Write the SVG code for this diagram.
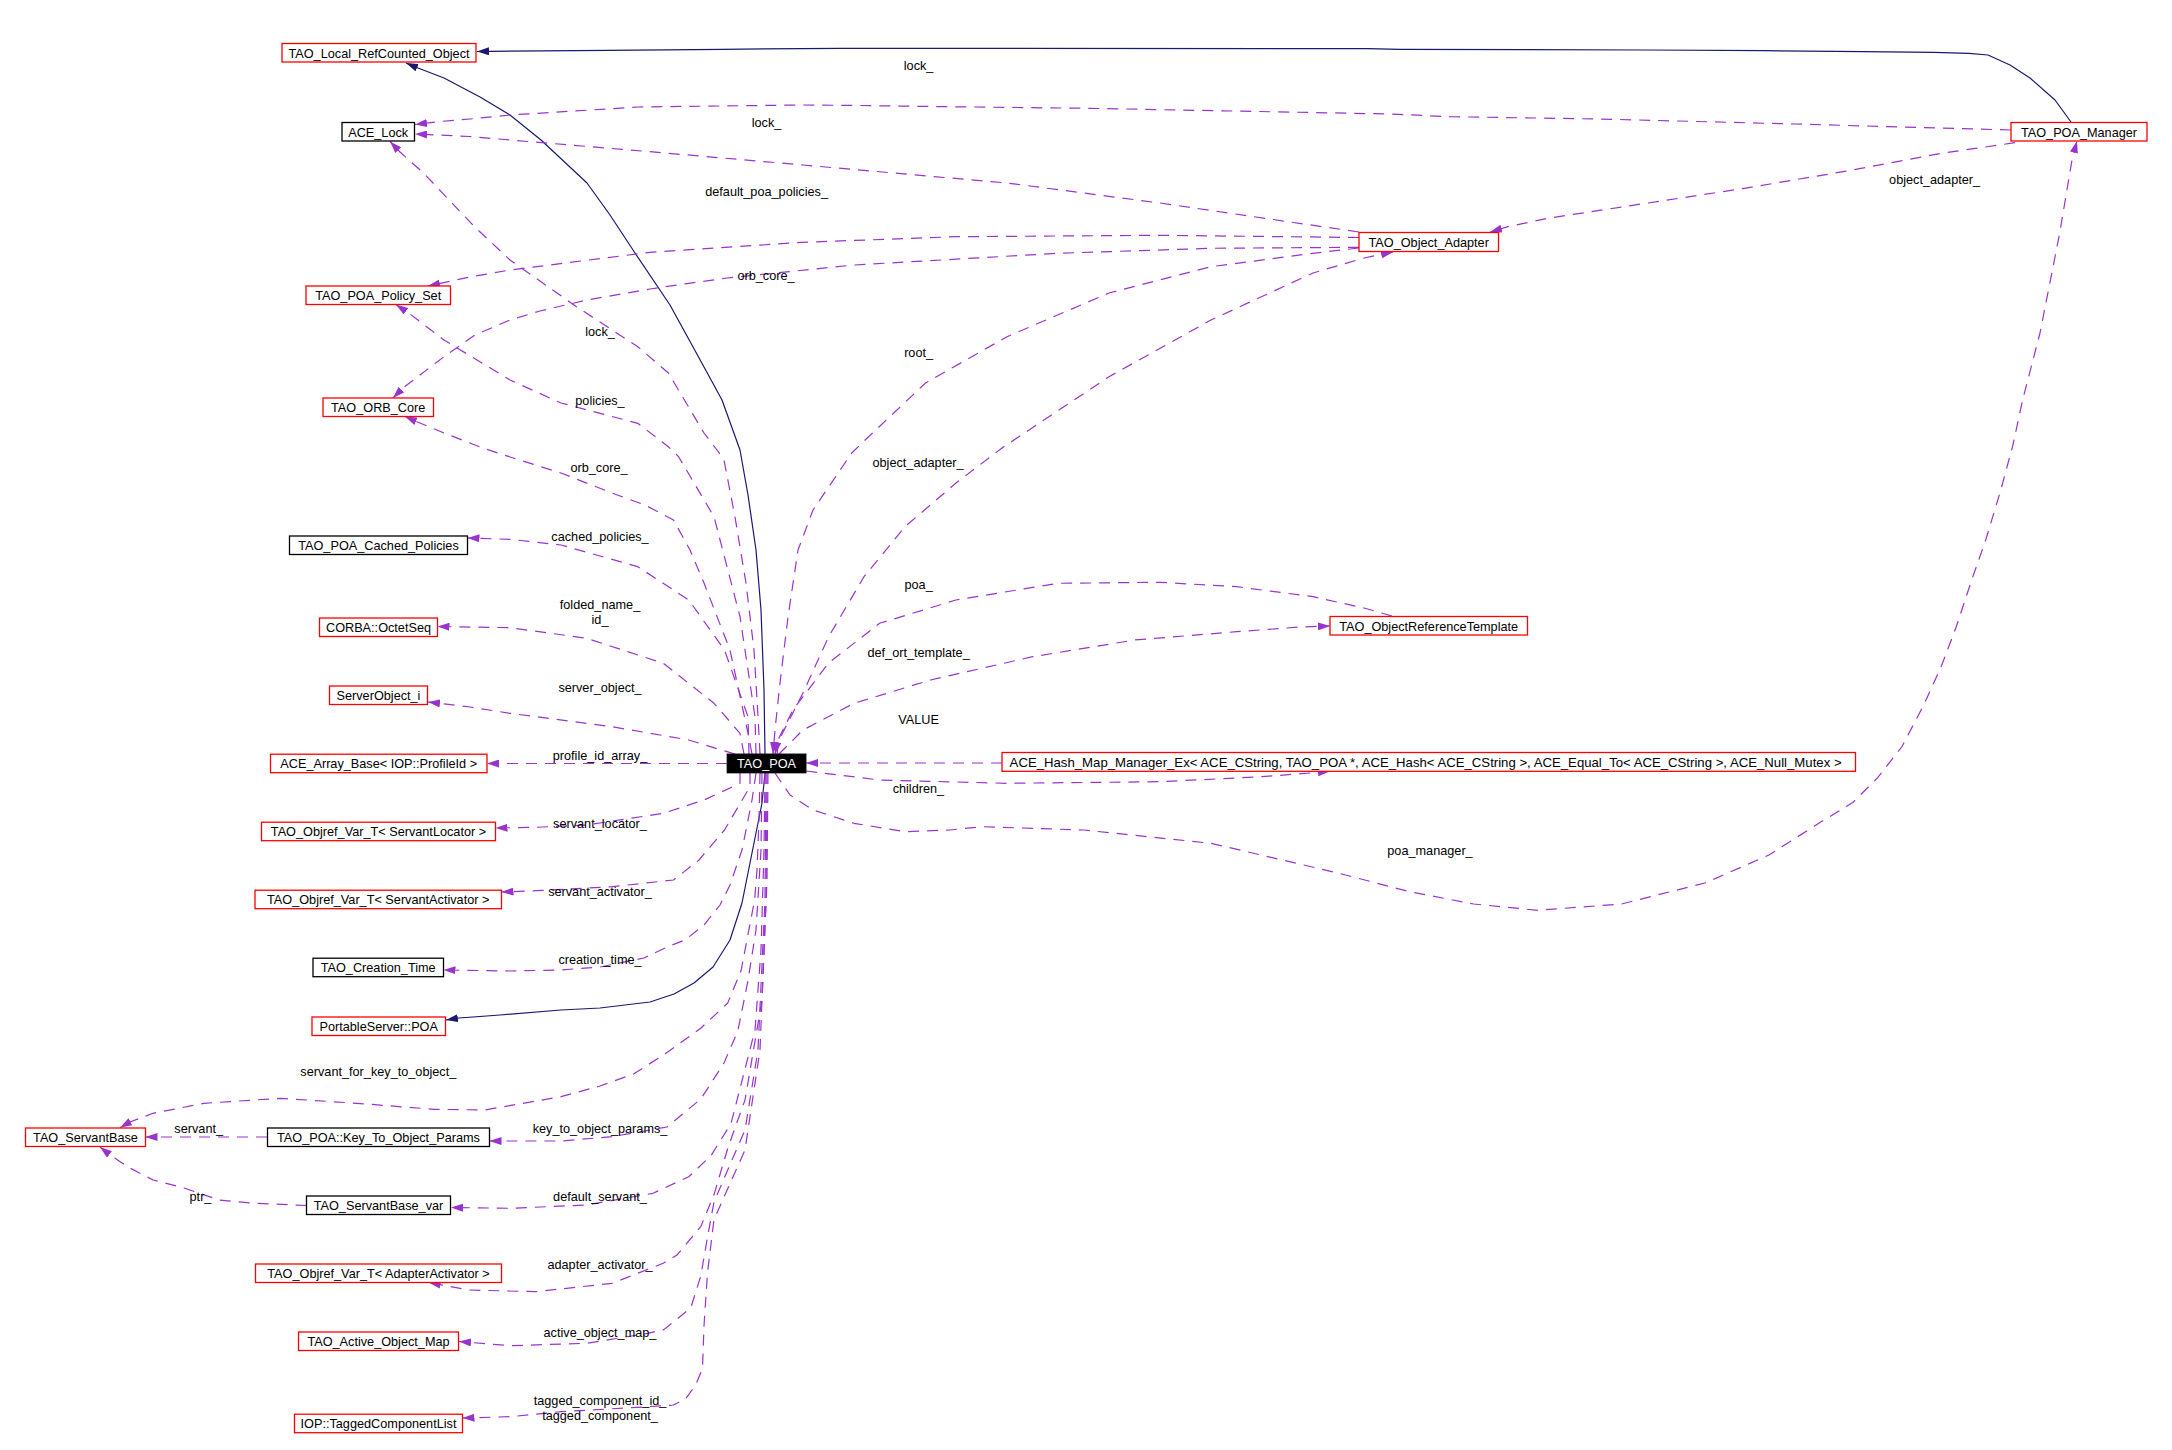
<svg xmlns="http://www.w3.org/2000/svg" width="2172" height="1450" viewBox="0 0 2172 1450">
<defs>
<style>
text{font-family:"Liberation Sans",Arial,Helvetica,sans-serif;font-size:12.7px;fill:#000}
.nr{fill:#fff;stroke:#ff0000;stroke-width:1.3}
.nb{fill:#fff;stroke:#000;stroke-width:1.3}
.nt{text-anchor:middle}
.lb{text-anchor:middle}
.u{fill:none;stroke:#9a32cd;stroke-width:1.2;stroke-dasharray:11,8;stroke-linejoin:round;marker-end:url(#ap)}
.i{fill:none;stroke:#191970;stroke-width:1.2;stroke-linejoin:round;marker-end:url(#an)}
</style>
<marker id="ap" viewBox="0 0 12 8" refX="12" refY="4" markerWidth="12" markerHeight="8" markerUnits="userSpaceOnUse" orient="auto"><path d="M0,0 L12,4 L0,8 z" fill="#9a32cd"/></marker>
<marker id="an" viewBox="0 0 12 8" refX="12" refY="4" markerWidth="12" markerHeight="8" markerUnits="userSpaceOnUse" orient="auto"><path d="M0,0 L12,4 L0,8 z" fill="#191970"/></marker>
</defs>
<rect width="2172" height="1450" fill="#fff"/>

<g id="edges">
<g id="e_inh_refcounted"><path class="i" d="M765,754 L764,690 L761,610 L756,550 L748,495 L740,450 L722,400 L704,367 L670,305 L635,253 L610,215 L587,183 L541,140 L510,115 L480,97 L444,78 L418,68 L406,63"/></g>
<g id="e_inh_portableserver"><path class="i" d="M765,773 L762,803 L752,853 L742,903 L730,940 L713,967 L694,983 L674,994 L650,1002 L600,1008 L561,1010 L500,1015 L459,1018 L446,1020"/></g>
<g id="e_inh_manager"><path class="i" d="M2071,122 L2055,100 L2030,78 L2010,65 L1988,55 L1969,53.3 L1934,52.3 L1863,51.7 L1764,50.7 L1646,50 L1400,49.3 L1368,48.7 L840,48.3 L723,49.3 L608,50.3 L490,51.3 L477,51.5"/></g>

<g id="e_mgr_lock"><path class="u" d="M2011,130 L1794,124 L1600,119 L1450,116.7 L1390,114 L1089,108.3 L946,106.7 L844,105.3 L800,105 L638,107 L510,115 L470,119 L440,121.5 L415,124.5"/><text class="lb" x="918.6" y="70">lock_</text></g>
<g id="e_oa_lock"><path class="u" d="M1359,232 L1288,221.7 L1160,203 L1007,183 L803,165 L650,151.7 L510,140 L470,136.5 L415,134"/><text class="lb" x="766.5" y="127">lock_</text></g>
<g id="e_oa_policyset"><path class="u" d="M1359,237.5 L1160,235.3 L956,236.7 L803,242.3 L650,252.3 L510,270 L470,277 L428,286"/><text class="lb" x="766.6" y="195.5">default_poa_policies_</text></g>
<g id="e_oa_orbcore"><path class="u" d="M1359,247.3 L1211,248.3 L1058,253.3 L854,265 L727,278 L689,283.3 L650,289 L587,300 L540,311 L510,320 L475,335 L444,356.7 L420,375 L403,388 L393,398"/><text class="lb" x="766" y="279.5">orb_core_</text></g>
<g id="e_oa_poa_root"><path class="u" d="M1359,248 L1313,253.3 L1211,266.7 L1109,293 L1007,336.7 L925.5,383 L862,443 L851.5,453.3 L813,510 L798,550 L788,617 L780,683 L775,730 L773,754"/><text class="lb" x="918.6" y="356.5">root_</text></g>
<g id="e_poa_oa"><path class="u" d="M777,754 L779,740 L803,693 L828.6,636.7 L864,576.7 L905,526.7 L956,483 L1002,448 L1109,376.7 L1211,320 L1313,273 L1364,258 L1393,252"/><text class="lb" x="918" y="466.8">object_adapter_</text></g>
<g id="e_mgr_oa"><path class="u" d="M2015,142.7 L1941.5,153.3 L1843,171.7 L1744.6,188.3 L1646,203.3 L1547.7,218.3 L1508,226.7 L1490,232"/><text class="lb" x="1934.6" y="183.5">object_adapter_</text></g>

<g id="e_poa_lock"><path class="u" d="M760,754 L758,716 L754,650 L746,583 L735,517 L724,460 L717,450 L704,433 L668.4,373 L637.8,346.7 L576.5,306.7 L510,260 L474.5,226.7 L423.5,173 L400,152 L390,141.5"/><text class="lb" x="600" y="336.2">lock_</text></g>
<g id="e_poa_policies"><path class="u" d="M756,754 L755,716.7 L740,616.7 L714,516.7 L678.6,456.7 L668.4,446.7 L637.8,423.3 L561,403 L510,380 L444,340 L410,314 L396,304.5"/><text class="lb" x="600" y="404.5">policies_</text></g>
<g id="e_poa_orbcore"><path class="u" d="M752,754 L748,733 L730,650 L704,583 L690,550 L673.5,520 L645,505 L612,493 L561,473 L510,457 L480,447 L444,433 L420,423 L405,416.5"/><text class="lb" x="599" y="472.2">orb_core_</text></g>
<g id="e_poa_cached"><path class="u" d="M749,754 L748,716.7 L724.5,650 L688.8,600 L637.8,566.7 L561,545 L510,539.3 L467.5,538"/><text class="lb" x="600" y="540.5">cached_policies_</text></g>
<g id="e_poa_octetseq"><path class="u" d="M744,754 L740,733.3 L714,703.3 L663.3,663.3 L586.7,638.3 L510,627.7 L437.5,626.5"/><text class="lb" x="600" y="608.5">folded_name_</text><text class="lb" x="600" y="623.5">id_</text></g>
<g id="e_poa_serverobj"><path class="u" d="M735,754 L727,751.7 L688.8,740 L612,726.7 L510,713.3 L470,707 L428,702"/><text class="lb" x="600" y="691.5">server_object_</text></g>
<g id="e_poa_profile"><path class="u" d="M727,763.5 L487,763.5"/><text class="lb" x="600" y="759.5">profile_id_array_</text></g>
<g id="e_poa_locator"><path class="u" d="M740,773 L740,783.3 L704,800 L663.3,813.3 L586.7,825 L535.7,827.3 L495.5,828"/><text class="lb" x="600" y="827.5">servant_locator_</text></g>
<g id="e_poa_activator"><path class="u" d="M750,773 L750,786.7 L724.5,830 L699,860 L673.5,880 L612,886.7 L535.7,890.7 L501.5,892"/><text class="lb" x="600" y="895.5">servant_activator_</text></g>
<g id="e_poa_creation"><path class="u" d="M756,773 L752,800 L742,850 L730,885 L720,905 L704,925 L685,940 L667,947 L644,958 L600,967 L560,970 L510,971 L443.5,970"/><text class="lb" x="600" y="963.5">creation_time_</text></g>
<g id="e_poa_servantbase"><path class="u" d="M760,773 L759,820 L757,870 L754.6,900 L747.8,935.5 L741,971 L727.7,1003 L701,1028 L667,1052.6 L633.6,1074 L600,1086 L561,1096.7 L484.7,1110 L433.7,1109.3 L357,1103.3 L280.6,1098.3 L204,1103.3 L153,1113.3 L130,1122 L120,1127.7"/><text class="lb" x="378.3" y="1075.5">servant_for_key_to_object_</text></g>
<g id="e_poa_keyparams"><path class="u" d="M762,773 L761,850 L756,930 L747.8,981.6 L737.8,1031 L724,1063 L700.8,1099 L667,1127 L612,1136.7 L561,1141 L500,1141 L489.5,1141"/><text class="lb" x="600" y="1132.8">key_to_object_params_</text></g>
<g id="e_keyparams_servantbase"><path class="u" d="M267,1137 L145.5,1137"/><text class="lb" x="198.7" y="1132.5">servant_</text></g>
<g id="e_servantbasevar_servantbase"><path class="u" d="M306.6,1205.5 L255,1203.3 L219,1200 L184,1188 L153,1180 L128,1167 L110,1155 L100,1147"/><text class="lb" x="200.5" y="1200.8">ptr_</text></g>
<g id="e_poa_defaultservant"><path class="u" d="M765,773 L764,850 L761,950 L755,1030 L741,1084.6 L731,1123.6 L711,1155.6 L688.8,1176.7 L653,1193.3 L586.7,1205 L510,1208.3 L451,1207.5"/><text class="lb" x="600" y="1200.8">default_servant_</text></g>
<g id="e_poa_adapteractivator"><path class="u" d="M768,773 L767,880 L762,1000 L745,1100 L727.7,1148.5 L714,1194.6 L700.8,1226.6 L677,1255 L663.3,1263.3 L612,1283.3 L535.7,1291.7 L469.4,1290 L428.6,1282.5"/><text class="lb" x="600" y="1268.8">adapter_activator_</text></g>
<g id="e_poa_aom"><path class="u" d="M766,773 L765,900 L758,1050 L745,1130 L727.7,1170 L714,1202 L707.5,1237 L700.8,1276 L690.7,1308 L663.8,1329.6 L648,1333.3 L586.7,1343.3 L510,1345.7 L459,1341.5"/><text class="lb" x="600" y="1336.8">active_object_map_</text></g>
<g id="e_poa_tagged"><path class="u" d="M767,773 L766,900 L760,1050 L745,1150 L714,1219.5 L707.5,1272.8 L704,1326 L702.5,1368.6 L695.8,1384.6 L685.7,1398.8 L673.5,1405 L637.8,1407.3 L561,1411.7 L510,1416.7 L462.5,1418"/><text class="lb" x="600" y="1404.5">tagged_component_id_</text><text class="lb" x="600" y="1419.5">tagged_component_</text></g>
<g id="e_ort_poa"><path class="u" d="M1392,616 L1364,608 L1313,596.7 L1236.7,586.7 L1160,582.3 L1058,583.3 L956,600 L879.6,623.3 L828.6,663 L792.9,710 L778,740 L775,754"/><text class="lb" x="918.6" y="588.8">poa_</text></g>
<g id="e_poa_ort"><path class="u" d="M779,754 L803,730 L854,703.3 L930.6,680 L1032.7,656.7 L1134.7,640 L1236.7,631.7 L1300,627 L1330,626"/><text class="lb" x="918.6" y="656.5">def_ort_template_</text></g>
<g id="e_hash_poa"><path class="u" d="M1002,763 L806,763"/><text class="lb" x="918.6" y="723.8">VALUE</text></g>
<g id="e_poa_hash"><path class="u" d="M806,771 L879.6,780 L1007,783.3 L1160,781.7 L1262,776.7 L1310,773 L1330,771.3"/><text class="lb" x="918.4" y="792.8">children_</text></g>
<g id="e_poa_manager"><path class="u" d="M775,773 L790,795 L813,810 L854,823.3 L905,831.7 L950,830 L981.6,826.7 L1083.7,830 L1211,843.3 L1339,873.3 L1410,891.8 L1473.8,904 L1537.8,910.3 L1621.5,904 L1705,883 L1769,855 L1818.4,823.5 L1852.8,802.5 L1877.4,778 L1902,746.5 L1924,704.5 L1941.4,666 L1956,627.5 L1971,582 L1985.7,540 L2000.5,491 L2012.8,445.5 L2022.6,400 L2040,333 L2059.7,233 L2072,160 L2077,141"/><text class="lb" x="1430" y="854.5">poa_manager_</text></g>
</g>

<g id="nodes">
<g id="n_TAO_Local_RefCounted_Object"><rect class="nr" x="282" y="43.5" width="194" height="18.5"/><text class="nt" x="379" y="57.5">TAO_Local_RefCounted_Object</text></g>
<g id="n_ACE_Lock"><rect class="nb" x="342" y="122.5" width="72.5" height="18.5"/><text class="nt" x="378.2" y="136.5">ACE_Lock</text></g>
<g id="n_TAO_POA_Policy_Set"><rect class="nr" x="306" y="286" width="144.5" height="18.5"/><text class="nt" x="378.2" y="300">TAO_POA_Policy_Set</text></g>
<g id="n_TAO_ORB_Core"><rect class="nr" x="323" y="398" width="110.5" height="18.5"/><text class="nt" x="378.2" y="412">TAO_ORB_Core</text></g>
<g id="n_TAO_POA_Cached_Policies"><rect class="nb" x="289.5" y="536" width="178" height="18.5"/><text class="nt" x="378.5" y="550">TAO_POA_Cached_Policies</text></g>
<g id="n_CORBA_OctetSeq"><rect class="nr" x="319.5" y="618" width="118" height="18.5"/><text class="nt" x="378.5" y="632">CORBA::OctetSeq</text></g>
<g id="n_ServerObject_i"><rect class="nr" x="329.5" y="686" width="98" height="18.5"/><text class="nt" x="378.5" y="700">ServerObject_i</text></g>
<g id="n_ACE_Array_Base"><rect class="nr" x="270.5" y="754.2" width="216.5" height="18.5"/><text class="nt" x="378.7" y="768.2">ACE_Array_Base&lt; IOP::ProfileId &gt;</text></g>
<g id="n_Objref_ServantLocator"><rect class="nr" x="261.5" y="822.2" width="234" height="18.5"/><text class="nt" x="378.5" y="836.2">TAO_Objref_Var_T&lt; ServantLocator &gt;</text></g>
<g id="n_Objref_ServantActivator"><rect class="nr" x="255" y="890.2" width="246.5" height="18.5"/><text class="nt" x="378.2" y="904.2">TAO_Objref_Var_T&lt; ServantActivator &gt;</text></g>
<g id="n_TAO_Creation_Time"><rect class="nb" x="313" y="958.2" width="130.5" height="18.5"/><text class="nt" x="378.2" y="972.2">TAO_Creation_Time</text></g>
<g id="n_PortableServer_POA"><rect class="nr" x="312" y="1017" width="133.5" height="18.5"/><text class="nt" x="378.7" y="1031">PortableServer::POA</text></g>
<g id="n_TAO_ServantBase"><rect class="nr" x="25.5" y="1128" width="120" height="18.5"/><text class="nt" x="85.5" y="1142">TAO_ServantBase</text></g>
<g id="n_Key_To_Object_Params"><rect class="nb" x="267.5" y="1128" width="222" height="18.5"/><text class="nt" x="378.5" y="1142">TAO_POA::Key_To_Object_Params</text></g>
<g id="n_TAO_ServantBase_var"><rect class="nb" x="306.5" y="1196" width="144" height="18.5"/><text class="nt" x="378.5" y="1210">TAO_ServantBase_var</text></g>
<g id="n_Objref_AdapterActivator"><rect class="nr" x="255.5" y="1264" width="246" height="18.5"/><text class="nt" x="378.5" y="1278">TAO_Objref_Var_T&lt; AdapterActivator &gt;</text></g>
<g id="n_TAO_Active_Object_Map"><rect class="nr" x="298.5" y="1332" width="160" height="18.5"/><text class="nt" x="378.5" y="1346">TAO_Active_Object_Map</text></g>
<g id="n_IOP_TaggedComponentList"><rect class="nr" x="294.5" y="1414.2" width="168" height="18.5"/><text class="nt" x="378.5" y="1428.2">IOP::TaggedComponentList</text></g>
<g id="n_TAO_POA"><rect x="727.3" y="754.2" width="78.5" height="18.5" fill="#000" stroke="#000" stroke-width="1.3"/><text class="nt" x="766.5" y="768.2" style="fill:#fff">TAO_POA</text></g>
<g id="n_TAO_Object_Adapter"><rect class="nr" x="1359" y="232.5" width="139.5" height="19"/><text class="nt" x="1428.7" y="246.8">TAO_Object_Adapter</text></g>
<g id="n_TAO_POA_Manager"><rect class="nr" x="2011" y="122.5" width="136" height="18.5"/><text class="nt" x="2079" y="136.5">TAO_POA_Manager</text></g>
<g id="n_TAO_ObjectReferenceTemplate"><rect class="nr" x="1330" y="616.5" width="197.5" height="18.5"/><text class="nt" x="1428.7" y="630.5">TAO_ObjectReferenceTemplate</text></g>
<g id="n_ACE_Hash_Map_Manager_Ex"><rect class="nr" x="1002" y="752.5" width="853.5" height="18.8"/><text class="nt" x="1425.6" y="766.5" textLength="832" lengthAdjust="spacingAndGlyphs">ACE_Hash_Map_Manager_Ex&lt; ACE_CString, TAO_POA *, ACE_Hash&lt; ACE_CString &gt;, ACE_Equal_To&lt; ACE_CString &gt;, ACE_Null_Mutex &gt;</text></g>
</g>
</svg>
